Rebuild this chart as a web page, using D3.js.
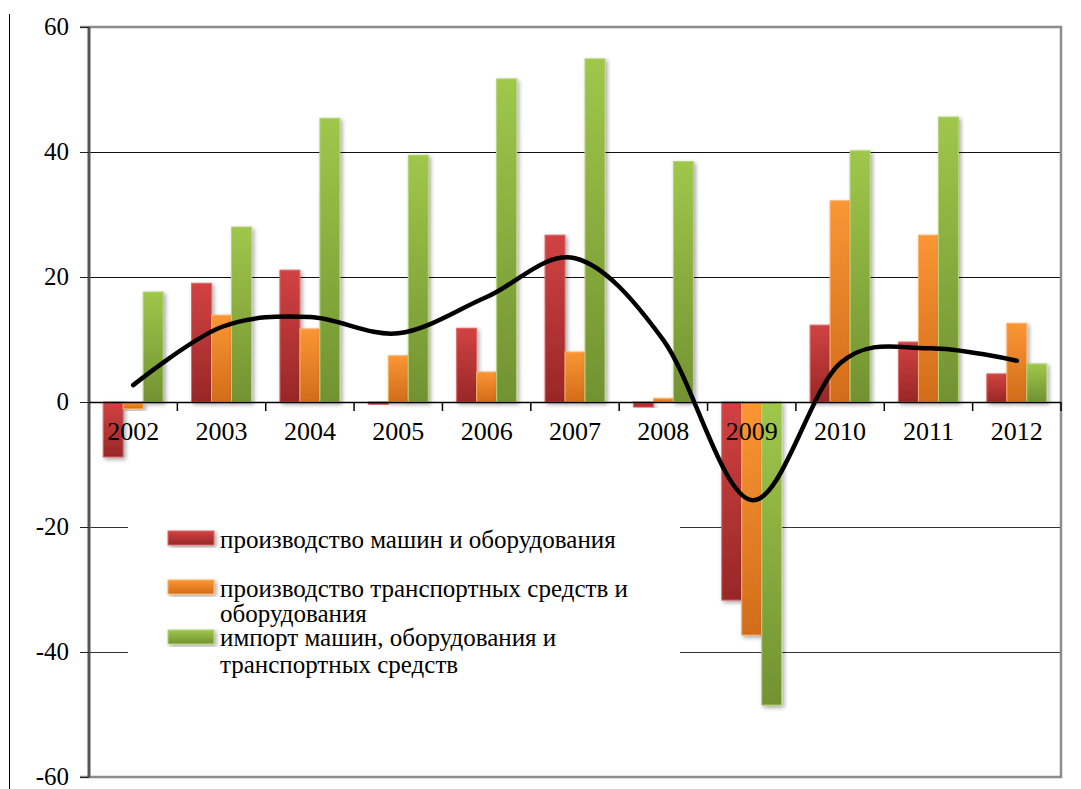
<!DOCTYPE html>
<html>
<head>
<meta charset="utf-8">
<script src="https://cdn.jsdelivr.net/npm/d3@7"></script>
<style>
  body { margin: 0; background: #fff; }
</style>
</head>
<body>
<div id="chart"></div>
<script>
// years on the x axis
const years = ["2002", "2003", "2004", "2005", "2006", "2007", "2008", "2009", "2010", "2011", "2012"];

const seriesNames = [
  "производство машин и оборудования",
  "производство транспортных средств и оборудования",
  "импорт машин, оборудования и транспортных средств"
];

// bar values, % per year
const machinery = [-8.8, 19.0, 21.1, -0.4, 11.8, 26.7, -0.8, -31.7, 12.3, 9.6, 4.5];
const transport = [-1.1, 13.9, 11.7, 7.4, 4.8, 8.0, 0.6, -37.3, 32.2, 26.7, 12.6];
const imports = [17.6, 28.0, 45.4, 39.5, 51.7, 54.9, 38.5, -48.5, 40.2, 45.6, 6.1];

// smoothed black line
const trend = [2.7, 12.0, 13.6, 11.0, 16.8, 23.0, 9.9, -15.7, 6.2, 8.6, 6.6];

const yTicks = [-60, -40, -20, 0, 20, 40, 60];

const width = 1081, height = 789;
const margin = {left: 89, right: 20, top: 27, bottom: 12};
const serif = "'Liberation Serif', 'DejaVu Serif', 'Times New Roman', serif";

const svg = d3.select("#chart").append("svg")
  .attr("width", width)
  .attr("height", height)
  .attr("font-family", serif);

const defs = svg.append("defs");

// gradients for the bars: lighter at top, darker at the bottom
const fills = [
  {id: "gRed", top: "#d24242", bottom: "#982727", edge: "#d96a6a"},
  {id: "gOrange", top: "#fb9634", bottom: "#d26c1a", edge: "#f9b26a"},
  {id: "gGreen", top: "#9fc74a", bottom: "#729232", edge: "#b4d47a"}
];
fills.forEach(f => {
  const g = defs.append("linearGradient").attr("id", f.id)
    .attr("x1", 0).attr("y1", 0).attr("x2", 0).attr("y2", 1);
  g.append("stop").attr("offset", "0%").attr("stop-color", f.top);
  g.append("stop").attr("offset", "100%").attr("stop-color", f.bottom);
});

const shadow = defs.append("filter").attr("id", "shadow")
  .attr("x", "-30%").attr("y", "-10%").attr("width", "160%").attr("height", "130%");
shadow.append("feDropShadow")
  .attr("dx", 2).attr("dy", 2).attr("stdDeviation", 2)
  .attr("flood-color", "#000").attr("flood-opacity", 0.35);

const x = d3.scaleBand()
  .domain(years)
  .range([margin.left, width - margin.right])
  .padding(0);

const xSub = d3.scaleBand()
  .domain(d3.range(3))
  .range([0, x.bandwidth()])
  .paddingInner(0)
  .paddingOuter(0.71);

const y = d3.scaleLinear()
  .domain([-60, 60])
  .range([777, 27]);

// outer left border line
svg.append("line")
  .attr("x1", 9.5).attr("x2", 9.5)
  .attr("y1", 14).attr("y2", height)
  .attr("stroke", "#000").attr("stroke-width", 1);

// gridlines
svg.append("g")
  .selectAll("line")
  .data(yTicks.filter(d => d !== 0 && d !== 60 && d !== -60))
  .join("line")
  .attr("x1", margin.left - 9)
  .attr("x2", width - margin.right)
  .attr("y1", d => Math.round(y(d)) + 0.5)
  .attr("y2", d => Math.round(y(d)) + 0.5)
  .attr("stroke", d => d > 0 ? "#111" : "#333")
  .attr("stroke-width", 1.2);

// frame: top, right, bottom in gray
const right = width - margin.right;
svg.append("path")
  .attr("d", `M${margin.left - 9},${y(60)}H${right}V${y(-60)}H${margin.left - 9}`)
  .attr("fill", "none")
  .attr("stroke", "#8c8c8c")
  .attr("stroke-width", 2.5);

// legend box covering part of the grid
const legendBox = {x: 128, y: 505, w: 552, h: 185};
svg.append("rect")
  .attr("x", legendBox.x).attr("y", legendBox.y)
  .attr("width", legendBox.w).attr("height", legendBox.h)
  .attr("fill", "#fff");

// bars
const series = [machinery, transport, imports];
const barData = [];
series.forEach((vals, s) => {
  vals.forEach((v, i) => barData.push({year: years[i], s, v}));
});

svg.append("g")
  .selectAll("rect")
  .data(barData)
  .join("rect")
  .attr("x", d => x(d.year) + xSub(d.s))
  .attr("width", xSub.bandwidth())
  .attr("y", d => y(Math.max(0, d.v)))
  .attr("height", d => Math.abs(y(d.v) - y(0)))
  .attr("fill", d => `url(#${fills[d.s].id})`)
  .attr("stroke", d => fills[d.s].edge)
  .attr("stroke-width", 1)
  .attr("filter", "url(#shadow)");

// left axis line
svg.append("line")
  .attr("x1", margin.left).attr("x2", margin.left)
  .attr("y1", y(60)).attr("y2", y(-60))
  .attr("stroke", "#555")
  .attr("stroke-width", 3);

// y tick marks and labels
svg.append("g")
  .selectAll("line")
  .data(yTicks)
  .join("line")
  .attr("x1", margin.left - 9).attr("x2", margin.left)
  .attr("y1", d => Math.round(y(d)) + 0.5)
  .attr("y2", d => Math.round(y(d)) + 0.5)
  .attr("stroke", "#222");

svg.append("g")
  .attr("font-size", 25)
  .attr("text-anchor", "end")
  .selectAll("text")
  .data(yTicks)
  .join("text")
  .attr("x", 69)
  .attr("y", d => y(d) + 8)
  .text(d => d);

// zero axis with ticks at band edges
svg.append("line")
  .attr("x1", margin.left).attr("x2", right)
  .attr("y1", y(0) + 0.5).attr("y2", y(0) + 0.5)
  .attr("stroke", "#000").attr("stroke-width", 1.5);

svg.append("g")
  .selectAll("line")
  .data(years.slice(1).map(d => x(d)).concat([right]))
  .join("line")
  .attr("x1", d => d).attr("x2", d => d)
  .attr("y1", y(0)).attr("y2", y(0) + 9)
  .attr("stroke", "#000").attr("stroke-width", 1.5);

// year labels
svg.append("g")
  .attr("font-size", 26)
  .attr("text-anchor", "middle")
  .selectAll("text")
  .data(years)
  .join("text")
  .attr("x", d => x(d) + x.bandwidth() / 2)
  .attr("y", 440)
  .text(d => d);

// smoothed line
const line = d3.line()
  .x((d, i) => x(years[i]) + x.bandwidth() / 2)
  .y(d => y(d))
  .curve(d3.curveCatmullRom.alpha(0));

svg.append("path")
  .datum(trend)
  .attr("d", line)
  .attr("fill", "none")
  .attr("stroke", "#000")
  .attr("stroke-width", 4.5)
  .attr("stroke-linecap", "round");

// legend
const legendItems = [
  {s: 0, top: 531, lines: ["производство машин и оборудования"], base: [548]},
  {s: 1, top: 580, lines: ["производство транспортных средств и", "оборудования"], base: [597, 622]},
  {s: 2, top: 630, lines: ["импорт машин, оборудования и", "транспортных средств"], base: [646, 673]}
];

const legend = svg.append("g");
legend.selectAll("rect")
  .data(legendItems)
  .join("rect")
  .attr("x", 168)
  .attr("y", d => d.top)
  .attr("width", 46)
  .attr("height", 14)
  .attr("fill", d => `url(#${fills[d.s].id})`)
  .attr("stroke", d => fills[d.s].edge)
  .attr("filter", "url(#shadow)");

legend.selectAll("text")
  .data(legendItems)
  .join("text")
  .attr("font-size", 25)
  .selectAll("tspan")
  .data(d => d.lines.map((t, i) => ({t, b: d.base[i]})))
  .join("tspan")
  .attr("x", 220)
  .attr("y", d => d.b)
  .text(d => d.t);
</script>
</body>
</html>
